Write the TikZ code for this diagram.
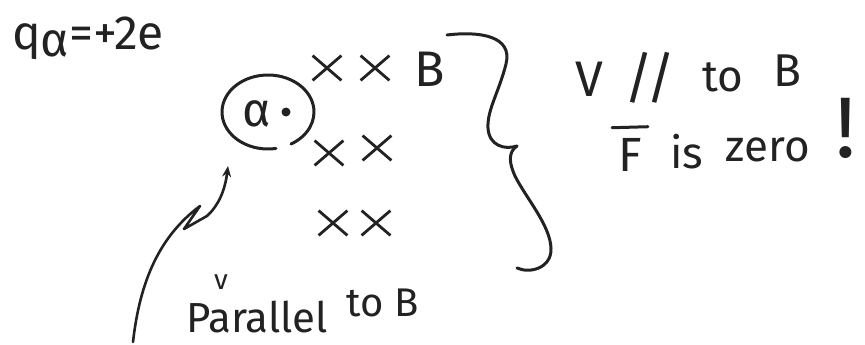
\documentclass[tikz,border=0pt]{standalone}
\usepackage{fontspec}
\setmainfont{Fira Sans}
\usetikzlibrary{arrows.meta,shapes.misc}
\definecolor{pen}{HTML}{222222}
\tikzset{
  stroke/.style={draw=pen, line width=3pt, line cap=round, line join=round},
  hw/.style={text=pen, inner sep=0pt},
  xmark/.style={draw=pen, cross out, line width=2.8pt, minimum width=26pt, minimum height=22pt, inner sep=0pt},
}
\newcommand{\fs}[1]{\fontsize{#1}{#1}\selectfont}
\begin{document}
\begin{tikzpicture}[x=1pt,y=-1pt]
\useasboundingbox (0,0) rectangle (865,345);

% charge label
\node[hw, anchor=base west] (q) at (12,50) {\fs{48}q\raisebox{-6pt}{α}=+2e};

% alpha particle in broken circle
\draw[stroke] (268,112) ++(80:46 and 37) arc[start angle=80, end angle=420, x radius=46, y radius=37];
\node[hw] (alph) at (257,114) {\fs{48}α};
\node[circle, fill=pen, inner sep=0pt, minimum size=9pt] (dot) at (286,112) {};

% field crosses
\node[xmark] (x11) at (327,68) {};
\node[xmark] (x12) at (375,68) {};
\node[xmark] (x21) at (329,153) {};
\node[xmark] (x22) at (377,148) {};
\node[xmark] (x31) at (333,223) {};
\node[xmark] (x32) at (376,223) {};
\node[hw, anchor=base] (B1) at (430,86) {\fs{50}B};

% brace
\coordinate (brtop) at (447,35);
\coordinate (brtip) at (517,146);
\coordinate (brend) at (517,268);
\draw[stroke] (brtop) .. controls (480,31) and (513,36) .. (506,64)
  .. controls (499,92) and (487,110) .. (488,128)
  .. controls (489,146) and (505,150) .. (brtip);
\draw[stroke] (brtip) .. controls (508,152) and (509,163) .. (515,176)
  .. controls (526,198) and (550,225) .. (551,248)
  .. controls (552,268) and (530,274) .. (brend);

% right statements
\node[hw, anchor=base] (V1) at (589,96) {\fs{50}V};
\node[hw, anchor=base] (par) at (650,97) {\fs{56}//};
\node[hw, anchor=base] (to1) at (723,92) {\fs{44}to};
\node[hw, anchor=base] (B2) at (787,87) {\fs{46}B};
\node[hw, anchor=base] (F) at (630,171) {\fs{48}F};
\draw[stroke] ([xshift=-6pt,yshift=10pt]F.north west) -- ([xshift=6pt,yshift=11pt]F.north east);
\node[hw, anchor=base] (is) at (687,168) {\fs{44}is};
\node[hw, anchor=base] (zero) at (768,161) {\fs{44}zero};
\node[hw, anchor=base] (excl) at (846,157) {\fs{86}!};

% bottom label
\node[hw, anchor=base] (v2) at (221,289) {\fs{28}v};
\node[hw, anchor=base west] (parallel) at (186,332) {\fs{42}Parallel};
\node[hw, anchor=base west] (toB) at (346,316) {\fs{40}to B};

% pointer arrow
\coordinate (a0) at (133,342);
\coordinate (a1) at (200,206);
\coordinate (a2) at (184,229);
\coordinate (a3) at (207,216);
\coordinate (a4) at (228,166);
\draw[stroke, line width=2.6pt, -{Stealth[length=11pt,width=9pt]}]
  (a0) .. controls (140,280) and (160,236) .. (a1) -- (a2) -- (a3)
  .. controls (219,205) and (225,190) .. (a4);
\end{tikzpicture}
\end{document}
